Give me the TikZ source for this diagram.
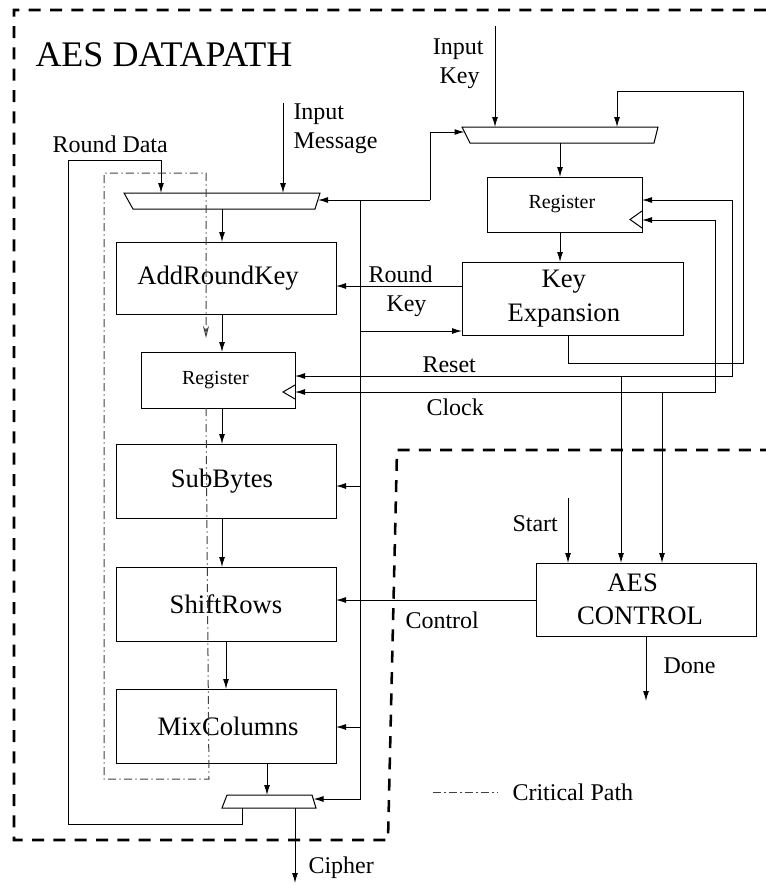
\documentclass[tikz,border=0pt]{standalone}
\usepackage{fontspec}
\setmainfont{Liberation Serif}
\usetikzlibrary{arrows.meta}
\tikzset{
  box/.style={draw, rectangle, inner sep=0pt, outer sep=0pt, align=center, font=\fontsize{20}{25}\selectfont},
  smallbox/.style={box, font=\fontsize{15}{18}\selectfont},
  arr/.style={-{Latex[length=7.5pt,width=4.5pt]}},
  lbl/.style={font=\fontsize{18}{21.75}\selectfont, inner sep=0pt, anchor=base west},
  lble/.style={lbl, anchor=base east},
  bound/.style={line width=1.9pt, dash pattern=on 9pt off 7pt},
  crit/.style={black!75, dash pattern=on 6pt off 2.5pt on 1pt off 2.5pt}
}
\begin{document}
\begin{tikzpicture}[x=0.75pt,y=-0.75pt,line width=0.75pt]
\useasboundingbox (0,0) rectangle (766,885);

% boundaries
\draw[bound] (766,10) -- (14,10) -- (14,840) -- (388,840) -- (397,450) -- (766,450);

% title
\node[lbl, font=\fontsize{27}{32}\selectfont] (title) at (35,66) {AES DATAPATH};

% boxes
\node[box, minimum width=165pt, minimum height=54pt] (ark) at (226,278) {AddRoundKey\hspace*{12pt}};
\node[smallbox, minimum width=115.5pt, minimum height=42pt] (dreg) at (218,380) {Register\hspace*{4pt}};
\node[box, minimum width=165pt, minimum height=55.5pt] (sub) at (226,481) {SubBytes\hspace*{6pt}};
\node[box, minimum width=165pt, minimum height=55.5pt] (shift) at (226,604) {ShiftRows};
\node[box, minimum width=165pt, minimum height=55.5pt] (mix) at (226,726) {\hspace*{3pt}MixColumns};
\node[smallbox, minimum width=116.25pt, minimum height=41.25pt] (kreg) at (564.5,204.5) {Register\hspace*{4pt}};
\node[box, minimum width=165.75pt, minimum height=54.75pt] (kexp) at (572.5,298.5) {Key\hspace*{13pt}\\Expansion\hspace*{13pt}};
\node[box, minimum width=165pt, minimum height=54.75pt] (ctrl) at (646,599.5) {AES\hspace*{20pt}\\CONTROL\hspace*{9pt}};

% clock triangles
\draw (295,385) -- (283,392) -- (295,399);
\draw (642,211) -- (630,219.5) -- (642,228);

% muxes
\draw (124,193) -- (320,193) -- (315,209) -- (133,209) -- cycle;
\draw (462,127) -- (658,127) -- (654,143) -- (470,143) -- cycle;
\draw (227,795) -- (312,795) -- (316,808) -- (222,808) -- cycle;

% coordinates
\coordinate (m1a) at (161,193);
\coordinate (m1b) at (283,193);
\coordinate (m1r) at (318,200);
\coordinate (m1o) at (222,209);
\coordinate (m2l) at (464.5,132);
\coordinate (m2a) at (495,127);
\coordinate (m2b) at (617,127);
\coordinate (m2o) at (560,143);
\coordinate (m3a) at (267,795);
\coordinate (m3r) at (313.5,799);
\coordinate (m3o) at (295,808);
\coordinate (m3f) at (242,808);
\coordinate (imsg) at (283,103);
\coordinate (ikey) at (495,26);
\coordinate (cipher) at (295,883);
\coordinate (start) at (568,498);
\coordinate (done) at (646,701);
\coordinate (bus) at (360,200);
\coordinate (fb) at (430,200);
\coordinate (rst) at (621,376);
\coordinate (clk) at (662,392);

% datapath connectors
\draw[arr] (imsg) -- (m1b);
\draw[arr] (m3f) -- (242,824) -- (68,824) -- (68,160) -- (161,160) -- (m1a);
\draw[arr] (m1o) -- (m1o |- ark.north);
\draw[arr] (ark.south -| m1o) -- (dreg.north -| m1o);
\draw[arr] (dreg.south -| m1o) -- (sub.north -| m1o);
\draw[arr] (sub.south -| m1o) -- (shift.north -| m1o);
\draw[arr] (shift.south) -- (mix.north);
\draw[arr] (mix.south -| m3a) -- (m3a);
\draw[arr] (m3o) -- (cipher);

% control bus
\draw[arr] (fb) -- (m1r);
\draw[arr] (fb) -- (430,132) -- (m2l);
\draw[arr] (bus) -- (360,799) -- (m3r);
\draw[arr] (360,486) -- (sub.east |- 0,486);
\draw[arr] (360,727) -- (mix.east |- 0,727);
\draw[arr] (360,331) -- (kexp.west |- 0,331);
\draw[arr] (kexp.west |- 0,286) -- (ark.east |- 0,286);
\draw[arr] (ctrl.west |- 0,600) -- (shift.east |- 0,600);

% key path
\draw[arr] (ikey) -- (m2a);
\draw[arr] (m2o) -- (kreg.north -| m2o);
\draw[arr] (kreg.south -| m2o) -- (kexp.north -| m2o);
\draw[arr] (kexp.south -| 568,0) -- (568,363) -- (743,363) -- (743,91) -- (617,91) -- (m2b);

% reset / clock
\draw[arr] (rst) -- (dreg.east |- rst);
\draw[arr] (rst) -- (732,376) -- (732,200) -- (kreg.east |- 0,200);
\draw[arr] (rst) -- (ctrl.north -| rst);
\draw[arr] (clk) -- (dreg.east |- clk);
\draw[arr] (clk) -- (715,392) -- (715,220) -- (kreg.east |- 0,220);
\draw[arr] (clk) -- (ctrl.north -| clk);
\draw[arr] (start) -- (ctrl.north -| start);
\draw[arr] (ctrl.south -| done) -- (done);

% critical path
\draw[crit, -{Stealth[open,length=9pt,width=4.5pt]}] (dreg.south -| 206,0) -- (209,779) -- (104,779) -- (104,173) -- (206,173) -- (206,338);
\draw[crit] (433,792) -- (498,792);

% labels
\node[lbl] (lrd) at (52,152) {Round Data};
\node[lbl] (lim1) at (293,119) {Input};
\node[lbl] (lim2) at (293,148) {Message};
\node[lble] (lik1) at (484,54) {Input};
\node[lble] (lik2) at (480,83) {Key};
\node[lbl] (lrk1) at (368,282) {Round};
\node[lbl] (lrk2) at (386,311) {Key};
\node[lbl] (lrst) at (422,372) {Reset};
\node[lbl] (lclk) at (426,415) {Clock};
\node[lbl] (lst) at (512,531) {Start};
\node[lbl] (lctl) at (405,628) {Control};
\node[lbl] (ldone) at (663,673) {Done};
\node[lbl] (lciph) at (308,873) {Cipher};
\node[lbl] (lcrit) at (512,800) {Critical Path};
\end{tikzpicture}
\end{document}
